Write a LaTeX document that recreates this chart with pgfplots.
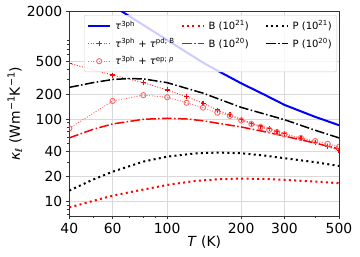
\documentclass[border=0pt]{standalone}
\usepackage{fontspec}
\setmainfont{DejaVu Sans}
\usepackage{pgfplots}
\pgfplotsset{compat=1.18}
\pgfdeclareplotmark{redplus}{%
  \pgfsetstrokecolor{red}\pgfsetlinewidth{1.2pt}\pgfsetdash{}{0pt}\pgfsetbuttcap
  \pgfpathmoveto{\pgfqpoint{\pgfplotmarksize}{0pt}}%
  \pgfpathlineto{\pgfqpoint{-\pgfplotmarksize}{0pt}}%
  \pgfpathmoveto{\pgfqpoint{0pt}{\pgfplotmarksize}}%
  \pgfpathlineto{\pgfqpoint{0pt}{-\pgfplotmarksize}}%
  \pgfusepathqstroke}
\begin{document}
\begin{tikzpicture}
\begin{loglogaxis}[name=ax, scale only axis, width=269.7pt, height=204.6pt,
  xmin=40, xmax=500, ymin=6.7, ymax=2000,
  /pgf/number format/assume math mode=true,
  xtick={40,60,100,200,300,500}, xticklabels={40,60,100,200,300,500},
  ytick={10,20,40,100,200,500,2000}, yticklabels={10,20,40,100,200,500,2000},
  minor xtick={50,70,80,90,400},
  minor ytick={7,8,9,30,50,60,70,80,90,300,400,600,700,800,900},
  xtick pos=lower, ytick pos=left,
  tick align=outside, major tick length=3.5pt, minor tick length=2pt,
  grid=major, major grid style={black!15, line width=0.8pt},
  minor grid style={draw=none},
  axis line style={black!80, line width=0.8pt},
  every tick/.style={black!80, line width=0.8pt},
  tick label style={font=\fontsize{13.9}{16}\selectfont},
  label style={font=\fontsize{13.9}{16}\selectfont},
  xlabel={\textit{T} (K)},
  ylabel={\textit{κ}\textsubscript{\textit{ℓ}} (Wm\textsuperscript{−1}K\textsuperscript{−1})},
  x label style={at={(axis description cs:0.5,-0.1295)}, anchor=center},
  y label style={at={(axis description cs:-0.2013,0.5)}, anchor=center},
  clip marker paths=true,
  legend columns=3,
  legend cell align=left,
  legend style={at={(axis description cs:1,1)}, xshift=-2pt, yshift=-3.6pt,
    anchor=north east, draw=black!20, rounded corners=2pt, fill=white,
    fill opacity=0.8, draw opacity=1, text opacity=1,
    font=\fontsize{10}{12}\selectfont, row sep=3.2pt,
    inner xsep=3pt, inner ysep=3.5pt,
    /tikz/column 1/.style={column sep=2pt},
    /tikz/column 2/.style={column sep=4pt},
    /tikz/column 3/.style={column sep=2pt},
    /tikz/column 4/.style={column sep=14pt},
    /tikz/column 5/.style={column sep=2pt}},
  legend image code/.code={\draw[mark repeat=2,mark phase=2,#1] plot coordinates {(0pt,0pt) (11pt,0pt) (22pt,0pt)};},
]
% tau 3ph
\addplot[blue, line width=2pt] coordinates {
(40,5300) (50,3400) (60,2350) (64,2080) (80,1370) (100,900) (120,640) (140,480) (160,385) (200,270) (250,195) (300,148) (400,106) (500,84)};
\addlegendentry{\textit{τ}\textsuperscript{3ph}}
% B 1e21
\addplot[red, line width=2pt, dash pattern=on 2pt off 3.3pt] coordinates {
(40,8.5) (50,10.2) (60,11.8) (80,14.0) (100,15.9) (130,17.8) (160,18.6) (200,19.0) (250,18.8) (300,18.3) (400,17.5) (500,16.7)};
\addlegendentry{B (10\textsuperscript{21})}
% P 1e21
\addplot[black, line width=2pt, dash pattern=on 2pt off 3.3pt] coordinates {
(40,13.6) (50,18.5) (60,23) (80,30.5) (100,35) (130,38.3) (160,39.2) (200,38.5) (250,36) (300,33.5) (400,30) (500,27)};
\addlegendentry{P (10\textsuperscript{21})}
% 3ph + pd;B
\addplot[color=red!80!white, line width=0.9pt, dash pattern=on 1pt off 1.6pt, mark=redplus, mark size=2.5pt, mark options={solid, red}] coordinates {
(40,471) (60,340) (80,275) (100,224) (120,186) (140,155) (160,128) (180,112) (200,99) (220,89) (240,82) (260,77) (280,71) (300,66) (350,58.5) (400,52) (450,46.5) (500,41.5)};
\addlegendentry{\textit{τ}\textsuperscript{3ph} + \textit{τ}\textsuperscript{pd; B}}
% B 1e20
\addplot[red, line width=1.5pt, dash pattern=on 9.6pt off 2.4pt on 1.5pt off 2.4pt] coordinates {
(40,59) (50,75) (60,87) (80,99) (100,102) (120,100) (140,95) (160,89) (200,80) (250,70) (300,62) (400,51) (500,43.5)};
\addlegendentry{B (10\textsuperscript{20})}
% P 1e20
\addplot[black, line width=1.5pt, dash pattern=on 9.6pt off 2.4pt on 1.5pt off 2.4pt] coordinates {
(40,241) (50,275) (60,300) (70,308) (80,305) (100,275) (140,205) (200,138) (300,98) (400,73) (500,59)};
\addlegendentry{P (10\textsuperscript{20})}
% 3ph + ep;p
\addplot[draw=red!60!white, line width=0.9pt, dash pattern=on 1pt off 1.6pt, mark=o, mark size=2.6pt, mark options={solid, draw=red!60!white, fill=none, line width=0.9pt}] coordinates {
(40,77) (60,165) (80,194) (100,183) (120,157) (140,137) (160,119) (180,109) (200,96) (220,87) (240,80) (260,74) (280,69) (300,65) (350,59) (400,54) (450,50) (500,46)};
\addlegendentry{\textit{τ}\textsuperscript{3ph} + \textit{τ}\textsuperscript{ep; \textit{p}}}
\end{loglogaxis}
\path ([shift={(-69.3pt,-41pt)}]ax.south west) rectangle ([shift={(21pt,11.4pt)}]ax.north east);
\end{tikzpicture}
\end{document}
